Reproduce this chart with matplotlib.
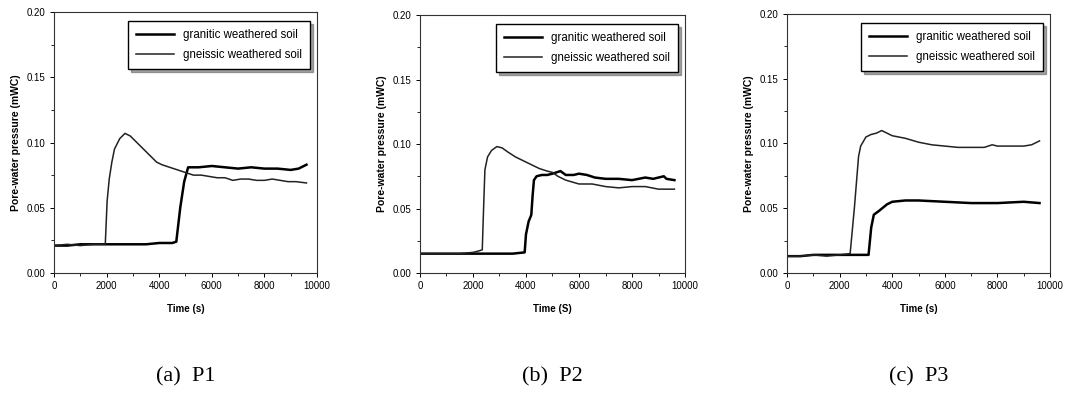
import matplotlib
matplotlib.use("Agg")
import matplotlib.pyplot as plt
from matplotlib.ticker import MultipleLocator

plt.rcParams['font.family'] = ['Liberation Sans', 'DejaVu Sans']

# P1
t1_gneiss = [0, 500, 1000, 1500, 1950, 2020, 2100, 2200, 2300, 2500, 2700, 2900, 3100, 3300,
             3500, 3700, 3900, 4100, 4400, 4700, 5000, 5300, 5600, 5900, 6200, 6500, 6800,
             7100, 7400, 7700, 8000, 8300, 8600, 8900, 9200, 9600]
p1_gneiss = [0.021, 0.022, 0.021, 0.022, 0.022, 0.055, 0.072, 0.085, 0.095, 0.103, 0.107,
             0.105, 0.101, 0.097, 0.093, 0.089, 0.085, 0.083, 0.081, 0.079, 0.077, 0.075,
             0.075, 0.074, 0.073, 0.073, 0.071, 0.072, 0.072, 0.071, 0.071, 0.072, 0.071,
             0.070, 0.070, 0.069]
t1_granite = [0, 500, 1000, 1500, 2000, 2500, 3000, 3500, 4000, 4500, 4650, 4800, 4950, 5100,
              5500, 6000, 6500, 7000, 7500, 8000, 8500, 9000, 9300, 9600]
p1_granite = [0.021, 0.021, 0.022, 0.022, 0.022, 0.022, 0.022, 0.022, 0.023, 0.023, 0.024,
              0.050, 0.070, 0.081, 0.081, 0.082, 0.081, 0.080, 0.081, 0.080, 0.080, 0.079,
              0.080, 0.083]

# P2
t2_gneiss = [0, 500, 1000, 1500, 2000, 2200, 2350, 2400, 2450, 2550, 2700, 2900, 3100, 3300,
             3600, 3900, 4200, 4500, 4800, 5000, 5200, 5500, 6000, 6500, 7000, 7500, 8000,
             8500, 9000, 9600]
p2_gneiss = [0.015, 0.015, 0.015, 0.015, 0.016, 0.017, 0.018, 0.050, 0.080, 0.090, 0.095,
             0.098, 0.097, 0.094, 0.090, 0.087, 0.084, 0.081, 0.079, 0.078, 0.075, 0.072,
             0.069, 0.069, 0.067, 0.066, 0.067, 0.067, 0.065, 0.065]
t2_granite = [0, 500, 1000, 1500, 2000, 2500, 3000, 3500, 3950, 4000, 4100, 4200, 4250, 4300,
              4400, 4600, 4800, 5000, 5300, 5500, 5800, 6000, 6300, 6600, 7000, 7500, 8000,
              8500, 8800, 9200, 9300, 9600]
p2_granite = [0.015, 0.015, 0.015, 0.015, 0.015, 0.015, 0.015, 0.015, 0.016, 0.030, 0.040,
              0.045, 0.060, 0.072, 0.075, 0.076, 0.076, 0.077, 0.079, 0.076, 0.076, 0.077,
              0.076, 0.074, 0.073, 0.073, 0.072, 0.074, 0.073, 0.075, 0.073, 0.072]

# P3
t3_gneiss = [0, 500, 1000, 1500, 2000, 2400, 2560, 2720, 2800, 3000, 3200, 3400, 3600, 3800,
             4000, 4500, 5000, 5500, 6000, 6500, 7000, 7500, 7800, 8000, 8500, 9000, 9300, 9600]
p3_gneiss = [0.013, 0.013, 0.014, 0.013, 0.014, 0.015, 0.050, 0.090, 0.098, 0.105, 0.107,
             0.108, 0.110, 0.108, 0.106, 0.104, 0.101, 0.099, 0.098, 0.097, 0.097, 0.097,
             0.099, 0.098, 0.098, 0.098, 0.099, 0.102]
t3_granite = [0, 500, 1000, 1500, 2000, 2500, 3000, 3100, 3200, 3300, 3500, 3800, 4000, 4500,
              5000, 6000, 7000, 8000, 9000, 9600]
p3_granite = [0.013, 0.013, 0.014, 0.014, 0.014, 0.014, 0.014, 0.014, 0.035, 0.045, 0.048,
              0.053, 0.055, 0.056, 0.056, 0.055, 0.054, 0.054, 0.055, 0.054]

panels = [
    (t1_granite, p1_granite, t1_gneiss, p1_gneiss, "Time (s)", "(a) P1"),
    (t2_granite, p2_granite, t2_gneiss, p2_gneiss, "Time (S)", "(b) P2"),
    (t3_granite, p3_granite, t3_gneiss, p3_gneiss, "Time (s)", "(c) P3"),
]
rects = [[0.0506, 0.3071, 0.2465, 0.6624],
         [0.3936, 0.3071, 0.2484, 0.6548],
         [0.7376, 0.3071, 0.2465, 0.6574]]

fig = plt.figure(figsize=(10.67, 3.94), dpi=100)

for (tg, pg, tn, pn, xlab, cap), r in zip(panels, rects):
    ax = fig.add_axes(r)
    ax.plot(tg, pg, color='black', lw=1.8, label='granitic weathered soil')
    ax.plot(tn, pn, color='#222222', lw=1.1, label='gneissic weathered soil')
    ax.set_xlim(0, 10000)
    ax.set_ylim(0, 0.20)
    ax.xaxis.set_major_locator(MultipleLocator(2000))
    ax.xaxis.set_minor_locator(MultipleLocator(1000))
    ax.yaxis.set_major_locator(MultipleLocator(0.05))
    ax.yaxis.set_minor_locator(MultipleLocator(0.025))
    ax.yaxis.set_major_formatter(plt.FuncFormatter(lambda v, p: f"{v:.2f}"))
    ax.tick_params(which='major', direction='out', length=3, width=0.7, labelsize=7, pad=3)
    ax.tick_params(which='minor', direction='out', length=2, width=0.6)
    for s in ax.spines.values():
        s.set_linewidth(0.8)
        s.set_color('#333333')
    ax.set_ylabel('Pore-water pressure (mWC)', fontsize=7.5, fontweight='bold', labelpad=4)
    ax.set_xlabel(xlab, fontsize=7, fontweight='bold', labelpad=9)
    ax.legend(loc='upper right', bbox_to_anchor=(0.975, 0.965), borderaxespad=0,
              fontsize=8.3, handlelength=3.3, frameon=True, fancybox=False, shadow=True,
              edgecolor='black', framealpha=1, labelspacing=0.7, borderpad=0.7)
    cx = r[0] + r[2] / 2
    fig.text(cx, 1 - 377 / 394, cap.replace(' ', '  '), ha='center', va='center',
             fontsize=16, family=['Liberation Serif', 'DejaVu Serif'])

fig.savefig('out.png', dpi=100)
